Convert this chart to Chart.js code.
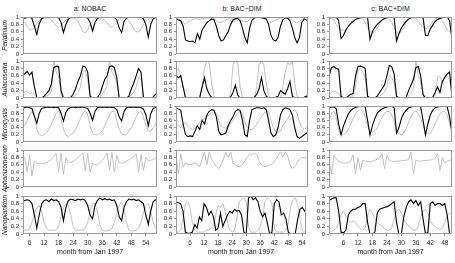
<!DOCTYPE html>
<html><head><meta charset="utf-8">
<script src="https://cdn.jsdelivr.net/npm/chart.js@4.4.1/dist/chart.umd.min.js"></script>
<style>
html,body{margin:0;padding:0;background:#fff;}
body{width:455px;height:263px;overflow:hidden;position:relative;font-family:"Liberation Sans",Arial,sans-serif;}
canvas{position:absolute;}
.ct{position:absolute;top:4px;font-size:7px;color:#222;text-align:center;width:140px;line-height:9px;}
</style></head><body>
<script>
// ---------- categories / axes ----------
const columnTitles = ["a: NOBAC", "b: BAC\u2212DIM", "c: BAC+DIM"];
const species = ["Peridinium", "Aulacoseira", "Microcystis", "Aphanizomenon", "Nanoplankton"];
const xAxisTitle = "month from Jan 1997";
const yTicks = [0, 0.2, 0.4, 0.6, 0.8, 1];
const yTickLabels = ["0", "0.2", "0.4", "0.6", "0.8", "1"];
const xTicksA = [6, 12, 18, 24, 30, 36, 42, 48, 54];
const xTicksB = [6, 12, 18, 24, 30, 36, 42, 48, 54];
const xTicksC = [6, 12, 18, 24, 30, 36, 42, 48];
const monthsA = [3,4,5,6,7,8,9,10,11,12,13,14,15,16,17,18,19,20,21,22,23,24,25,26,27,28,29,30,31,32,33,34,35,36,37,38,39,40,41,42,43,44,45,46,47,48,49,50,51,52,53,54,55,56,57,58,59];
const monthsB = [0,1,2,3,4,5,6,7,8,9,10,11,12,13,14,15,16,17,18,19,20,21,22,23,24,25,26,27,28,29,30,31,32,33,34,35,36,37,38,39,40,41,42,43,44,45,46,47,48,49,50,51,52,53,54,55,56];
const monthsC = [0,1,2,3,4,5,6,7,8,9,10,11,12,13,14,15,16,17,18,19,20,21,22,23,24,25,26,27,28,29,30,31,32,33,34,35,36,37,38,39,40,41,42,43,44,45,46,47,48,49,50,51,52];

// ---------- a: NOBAC ----------
const perA_blk = [0.96,0.97,0.99,1,0.96,0.75,0.53,0.82,0.95,0.99, 1,1,1,1,1,0.98,0.85,0.58,0.8,0.94, 0.99,1,1,1,1,1,1,0.97,0.85,0.62, 0.85,0.96,1,1,1,1,1,1,1,0.92, 0.7,0.58,0.88,0.97,1,1,1,1,1,1, 0.95,0.8,0.46,0.8,0.95,0.99,1];
const perA_gry = [0.9,0.85,0.75,0.66,0.65,0.7,0.82,0.9,0.95,0.97, 0.97,0.96,0.92,0.85,0.76,0.72,0.76,0.85,0.92,0.95, 0.97,0.97,0.95,0.88,0.75,0.6,0.57,0.65,0.8,0.9, 0.95,0.97,0.97,0.96,0.92,0.84,0.75,0.72,0.78,0.88, 0.94,0.97,0.97,0.96,0.9,0.8,0.68,0.6,0.6,0.68, 0.8,0.9,0.94,0.96,0.97,0.97,0.97];
const aulA_blk = [0.6,0.65,0.72,0.62,0.7,0.3,0.02,0,0,0.05, 0.12,0.2,0.38,0.82,0.86,0.85,0.2,0,0,0, 0.02,0.1,0.25,0.45,0.6,0.86,0.84,0.7,0.05,0, 0,0.02,0.1,0.3,0.5,0.6,0.85,0.87,0.82,0.55, 0,0,0,0,0.05,0.25,0.4,0.6,0.8,0.7, 0.02,0,0,0,0.03,0.1,0.12];
const aulA_gry = [0.12,0.15,0.2,0.12,0.15,0.08,0.02,0,0,0.02, 0.05,0.08,0.15,1,0.7,0.6,0.1,0,0,0, 0,0.03,0.08,0.15,0.3,0.7,0.75,0.5,0.03,0, 0,0,0.03,0.1,0.2,0.35,1,0.7,0.6,0.4, 0,0,0,0,0.02,0.08,0.15,0.3,0.55,0.5, 0.02,0,0,0,0.02,0.05,0.05];
const micA_blk = [0.95,0.95,0.97,0.95,0.93,0.72,0.52,0.8,0.93,0.95, 0.97,0.96,0.97,0.95,0.97,0.95,0.8,0.58,0.82,0.93, 0.96,0.97,0.95,0.97,0.96,0.97,0.95,0.93,0.8,0.6, 0.85,0.95,0.97,0.96,0.97,0.96,0.97,0.96,0.95,0.9, 0.7,0.58,0.85,0.95,0.97,0.96,0.97,0.96,0.97,0.95, 0.92,0.75,0.45,0.78,0.93,0.96,0.97];
const micA_gry = [0.4,0.45,0.6,0.75,0.85,0.7,0.35,0.2,0.18,0.2, 0.25,0.35,0.5,0.65,0.8,0.85,0.65,0.35,0.2,0.15, 0.2,0.25,0.35,0.5,0.65,0.8,0.88,0.75,0.45,0.25, 0.2,0.2,0.25,0.3,0.45,0.6,0.75,0.85,0.85,0.6, 0.35,0.22,0.2,0.2,0.3,0.4,0.55,0.7,0.82,0.85, 0.7,0.45,0.3,0.3,0.4,0.5,0.55];
const aphA_gry = [0.78,0.8,0.4,0.85,0.3,0.7,0.65,0.63,0.62,0.64, 0.66,0.7,0.75,0.82,0.9,0.4,0.92,0.35,0.8,0.68, 0.66,0.7,0.74,0.8,0.86,0.92,0.45,0.9,0.4,0.65, 0.6,0.6,0.65,0.72,0.8,0.92,0.45,0.95,0.4,0.85, 0.65,0.64,0.66,0.7,0.74,0.78,0.84,0.9,0.4,0.88, 0.45,0.8,0.7,0.72,0.74,0.78,0.78];
const nanA_blk = [0.85,0.88,0.9,0.88,0.8,0.5,0.15,0.5,0.8,0.88, 0.9,0.85,0.92,0.88,0.9,0.85,0.7,0.35,0.7,0.88, 0.92,0.9,0.88,0.92,0.9,0.92,0.88,0.75,0.5,0.4, 0.75,0.88,0.95,0.9,0.93,0.9,0.92,0.88,0.9,0.75, 0.45,0.35,0.7,0.85,0.92,0.9,0.92,0.88,0.9,0.85, 0.8,0.5,0.25,0.6,0.85,0.9,0.9];
const nanA_gry = [0.1,0.1,0.1,0.15,0.3,0.55,0.7,0.75,0.6,0.3, 0.15,0.1,0.1,0.1,0.1,0.2,0.45,0.7,0.8,0.75, 0.5,0.2,0.1,0.1,0.1,0.1,0.15,0.3,0.6,0.8, 0.8,0.6,0.25,0.1,0.08,0.08,0.1,0.15,0.3,0.55, 0.75,0.85,0.7,0.3,0.1,0.08,0.08,0.1,0.15,0.3, 0.55,0.75,0.8,0.6,0.3,0.15,0.12];

// ---------- b: BAC-DIM ----------
const perB_blk = [0.95,0.92,0.9,0.75,0.38,0.35,0.33,0.35,0.3,0.55, 0.4,0.65,0.75,0.85,0.9,0.95,0.93,0.75,0.5,0.35, 0.38,0.5,0.6,0.8,0.92,0.95,0.96,0.9,0.7,0.45, 0.3,0.7,0.92,0.97,1,1,0.98,0.97,0.95,0.8, 0.5,0.38,0.35,0.45,0.75,0.92,0.98,0.97,0.9,0.7, 0.45,0.3,0.45,0.85,0.95,0.92,0.9];
const perB_gry = [0.97,0.95,0.9,0.85,0.8,0.85,0.9,0.93,0.95,0.95, 0.93,0.95,0.97,0.97,0.98,0.98,0.95,0.9,0.85,0.85, 0.88,0.92,0.95,0.97,0.98,0.98,0.97,0.95,0.9,0.87, 0.88,0.93,0.97,0.98,0.98,0.98,0.97,0.95,0.92,0.88, 0.85,0.88,0.92,0.95,0.97,0.98,0.98,0.97,0.95,0.9, 0.87,0.85,0.88,0.93,0.96,0.97,0.97];
const aulB_blk = [0.62,0.55,0.6,0.3,0,0,0,0,0,0, 0.02,0.3,0.55,0.25,0.1,0.02,0,0,0,0, 0,0,0,0.03,0.15,0.35,0.08,0,0,0, 0,0,0,0.02,0.1,0.25,0.55,0.2,0.05,0, 0,0,0.02,0.05,0.2,0.15,0.1,0.25,0.45,0.05, 0,0,0,0,0.02,0.05,0.05];
const aulB_gry = [0.7,0.8,0.6,0.3,0.05,0,0,0,0,0, 0,0.3,0.8,1,0.95,0.4,0.05,0,0,0, 0,0,0,0.1,0.9,1,0.95,0.3,0.02,0, 0,0,0,0,0.3,0.9,1,0.9,0.4,0.05, 0,0,0,0,0,0.3,0.7,0.95,0.9,1, 0.4,0.05,0,0,0,0,0];
const micB_blk = [0.95,0.92,0.88,0.5,0.2,0.15,0.17,0.15,0.3,0.45, 0.35,0.6,0.5,0.75,0.85,0.9,0.88,0.7,0.3,0.2, 0.22,0.25,0.45,0.6,0.7,0.85,0.9,0.88,0.6,0.2, 0.15,0.6,0.9,0.93,0.95,0.95,0.93,0.95,0.9,0.6, 0.25,0.15,0.2,0.4,0.75,0.9,0.95,0.93,0.9,0.75, 0.4,0.15,0.1,0.15,0.2,0.25,0.25];
const micB_gry = [0.5,0.45,0.4,0.5,0.55,0.45,0.4,0.35,0.38,0.45, 0.55,0.6,0.65,0.7,0.75,0.82,0.85,0.8,0.6,0.45, 0.4,0.38,0.42,0.5,0.6,0.7,0.8,0.85,0.8,0.55, 0.4,0.35,0.35,0.4,0.5,0.6,0.7,0.8,0.85,0.85, 0.6,0.4,0.3,0.25,0.3,0.45,0.55,0.65,0.75,0.85, 0.9,0.8,0.55,0.4,0.35,0.4,0.42];
const aphB_gry = [0.8,0.35,0.9,0.55,0.65,0.62,0.6,0.62,0.65,0.6, 0.55,0.75,0.95,0.6,0.95,0.75,0.65,0.55,0.5,0.6, 0.75,0.95,0.8,0.95,0.65,0.6,0.55,0.55,0.6,0.7, 0.8,0.9,0.85,0.92,0.88,0.7,0.6,0.55,0.55,0.58, 0.6,0.65,0.75,0.85,0.95,0.8,0.95,0.85,0.6,0.5, 0.55,0.65,0.75,0.8,0.78,0.8,0.8];
const nanB_blk = [0.85,0.82,0.8,0.6,0.05,0.02,0.02,0.05,0.25,0.15, 0.45,0.35,0.8,0.7,0.5,0.6,0.45,0.1,0.15,0.55, 0.2,0.35,0.5,0.6,0.55,0.65,0.6,0.62,0.5,0.05, 0,0.95,1,0.9,0.95,0.85,0.6,0.45,0.55,0.3, 0,0.05,0.8,0.9,0.85,0.5,0.55,0.4,0.05,0, 0,0.02,0.4,0.65,0.7,0.6,0.6];
const nanB_gry = [0.05,0.05,0.1,0.4,0.8,0.85,0.7,0.3,0.1,0.05, 0.05,0.05,0.05,0.1,0.1,0.15,0.2,0.5,0.75,0.7, 0.8,0.6,0.3,0.1,0.05,0.1,0.4,0.85,0.9,0.95, 0.85,0.2,0.05,0.05,0.05,0.1,0.2,0.4,0.85,0.95, 0.9,0.8,0.15,0.05,0.05,0.05,0.05,0.1,0.3,0.7, 0.9,0.95,0.8,0.4,0.1,0.05,0.05];

// ---------- c: BAC+DIM ----------
const perC_blk = [0.97,0.99,1,1,0.9,0.42,0.5,0.65,0.75,0.82, 0.88,0.93,0.96,0.98,1,1,0.98,0.4,0.6,0.72, 0.8,0.86,0.92,0.96,0.98,1,1,0.98,0.35,0.55, 0.7,0.8,0.88,0.95,0.98,1,1,1,1,0.98, 0.5,0.5,0.68,0.78,0.88,0.93,0.96,0.98,1,1, 0.9,0.4,0.45];
const perC_gry = [0.98,0.97,0.92,0.8,0.7,0.65,0.63,0.66,0.75,0.85, 0.92,0.96,0.97,0.97,0.95,0.85,0.72,0.62,0.58,0.6, 0.7,0.82,0.9,0.95,0.97,0.95,0.85,0.72,0.6,0.55, 0.6,0.72,0.85,0.92,0.96,0.97,0.96,0.9,0.8,0.72, 0.68,0.7,0.78,0.88,0.94,0.97,0.96,0.9,0.78,0.65, 0.6,0.62,0.65];
const aulC_blk = [0.6,0.82,0.85,0.8,0.78,0.05,0,0,0.05,0.1, 0.12,0.6,0.85,0.86,0.84,0.8,0.05,0,0,0, 0.05,0.15,0.25,0.35,0.6,0.88,0.85,0.65,0.05,0, 0,0,0.02,0.2,0.35,0.5,0.82,0.85,0.6,0.1, 0,0,0,0.02,0.15,0.3,0.15,0.45,0.55,0.65, 0.7,0.05,0];
const aulC_gry = [0.1,0.15,0.2,0.15,0.12,0.02,0,0,0.02,0.05, 0.05,0.3,0.75,0.8,0.7,0.55,0.03,0,0,0, 0.02,0.05,0.1,0.15,0.3,0.6,0.55,0.4,0.02,0, 0,0,0,0.05,0.15,0.25,1,0.6,0.45,0.05, 0,0,0,0,0.1,0.55,0.6,0.4,0.6,0.55, 0.5,0.02,0];
const micC_blk = [0.95,0.97,0.98,0.92,0.5,0.2,0.45,0.62,0.78,0.87, 0.93,0.96,0.98,0.99,1,0.98,0.6,0.2,0.45,0.65, 0.8,0.87,0.92,0.95,0.97,0.99,1,0.95,0.25,0.4, 0.65,0.8,0.88,0.95,0.97,0.99,1,1,0.98,0.6, 0.2,0.5,0.75,0.88,0.95,0.97,0.99,1,1,0.98, 0.7,0.25,0.2];
const micC_gry = [0.6,0.8,0.85,0.7,0.35,0.2,0.2,0.25,0.35,0.5, 0.65,0.78,0.87,0.9,0.85,0.7,0.45,0.3,0.28,0.3, 0.4,0.55,0.68,0.8,0.85,0.85,0.75,0.55,0.3,0.22, 0.2,0.25,0.38,0.55,0.7,0.82,0.86,0.8,0.65,0.45, 0.28,0.22,0.25,0.35,0.5,0.65,0.78,0.85,0.86,0.75, 0.5,0.3,0.25];
const aphC_gry = [0.75,0.35,0.85,0.75,0.7,0.66,0.65,0.64,0.66,0.7, 0.88,0.35,0.8,0.45,0.72,0.7,0.68,0.68,0.7,0.72, 0.75,0.8,0.9,0.5,0.85,0.72,0.7,0.69,0.7,0.7, 0.71,0.72,0.72,0.74,0.95,0.35,0.72,0.7,0.7,0.71, 0.72,0.72,0.73,0.74,0.78,0.9,0.45,0.8,0.65,0.7, 0.72,0.75,0.75];
const nanC_blk = [0.88,0.92,0.95,0.95,0.6,0.05,0.03,0.1,0.5,0.6, 0.65,0.65,0.7,0.72,0.8,0.8,0.3,0,0,0.05, 0.55,0.65,0.68,0.7,0.72,0.75,0.8,0.85,0.3,0, 0,0.45,0.7,0.85,0.9,0.8,0.88,0.75,0.85,0.4, 0,0.05,0.8,0.85,0.75,0.8,0.8,0.75,0.8,0.5, 0,0.02,0.02];
const nanC_gry = [0.05,0.05,0.1,0.15,0.3,0.5,0.6,0.5,0.35,0.3, 0.35,0.3,0.2,0.15,0.1,0.15,0.5,0.65,0.55,0.4, 0.3,0.25,0.2,0.15,0.1,0.1,0.15,0.4,0.6,0.65, 0.55,0.4,0.3,0.2,0.15,0.1,0.1,0.2,0.45,0.6, 0.65,0.55,0.35,0.25,0.2,0.15,0.12,0.15,0.3,0.5, 0.55,0.5,0.45];

// ---------- assembly ----------
const columns = [
  {months: monthsA, xTicks: xTicksA, xMin: 3.3, xMax: 58.6,
   rows: [[perA_blk, perA_gry], [aulA_blk, aulA_gry], [micA_blk, micA_gry], [null, aphA_gry], [nanA_blk, nanA_gry]]},
  {months: monthsB, xTicks: xTicksB, xMin: 0, xMax: 55.6,
   rows: [[perB_blk, perB_gry], [aulB_blk, aulB_gry], [micB_blk, micB_gry], [null, aphB_gry], [nanB_blk, nanB_gry]]},
  {months: monthsC, xTicks: xTicksC, xMin: 0, xMax: 51,
   rows: [[perC_blk, perC_gry], [aulC_blk, aulC_gry], [micC_blk, micC_gry], [null, aphC_gry], [nanC_blk, nanC_gry]]}
];

// layout geometry (pixels)
const colL = [23, 176, 329], colR = [157, 308, 452];
const rowT = [17, 61, 106, 150, 196], rowH = [37, 37, 36, 37, 38];
const TOP_PAD = 8, BOT_PAD = 8, XAXIS_H = 22, Y_W_OTHER = 20;

const boxPlugin = {
  id: 'box',
  afterDatasetsDraw(chart) {
    const a = chart.chartArea, ctx = chart.ctx;
    ctx.save();
    ctx.strokeStyle = '#9a9a9a';
    ctx.lineWidth = 1;
    ctx.strokeRect(Math.round(a.left) + 0.5, Math.round(a.top) + 0.5, Math.round(a.right - a.left) - 1, Math.round(a.bottom - a.top) - 1);
    ctx.restore();
  }
};

function pts(months, vals) { return months.map((m, i) => ({x: m, y: vals[i]})); }

columnTitles.forEach((t, c) => {
  const d = document.createElement('div');
  d.className = 'ct';
  d.textContent = t;
  d.style.left = ((colL[c] + colR[c]) / 2 - 70) + 'px';
  document.body.appendChild(d);
});

columns.forEach((col, c) => {
  col.rows.forEach((pair, r) => {
    const bottom = r === 4;
    const yw = c === 0 ? colL[0] : Y_W_OTHER;
    const left = colL[c] - yw;
    const width = colR[c] - left + 1;
    const height = TOP_PAD + rowH[r] + (bottom ? XAXIS_H : BOT_PAD);
    const cv = document.createElement('canvas');
    cv.width = width; cv.height = height;
    cv.style.left = left + 'px';
    cv.style.top = (rowT[r] - TOP_PAD) + 'px';
    cv.style.width = width + 'px'; cv.style.height = height + 'px';
    document.body.appendChild(cv);

    const datasets = [];
    if (pair[0]) datasets.push({data: pts(col.months, pair[0]), borderColor: '#000', borderWidth: 1.1});
    datasets.push({data: pts(col.months, pair[1]), borderColor: '#c2c2c2', borderWidth: 1});

    new Chart(cv, {
      type: 'line',
      data: {datasets: datasets},
      options: {
        responsive: false, animation: false, devicePixelRatio: 1,
        elements: {point: {radius: 0}, line: {tension: 0}},
        layout: {padding: {top: TOP_PAD, right: 1, left: 0, bottom: bottom ? 0 : BOT_PAD}},
        plugins: {legend: {display: false}, tooltip: {enabled: false}, title: {display: false}},
        scales: {
          x: {
            type: 'linear', min: col.xMin, max: col.xMax, display: bottom,
            afterBuildTicks: s => { s.ticks = col.xTicks.map(v => ({value: v})); },
            afterFit: s => { if (bottom) s.height = XAXIS_H; },
            ticks: {font: {size: 6.5, family: 'Liberation Sans'}, color: '#333', padding: 3, maxRotation: 0, autoSkip: false},
            grid: {drawOnChartArea: false, tickLength: 2, color: '#999'},
            border: {display: false},
            title: {display: true, text: xAxisTitle, font: {size: 7, family: 'Liberation Sans'}, color: '#222', padding: {top: 0, bottom: 0}}
          },
          y: {
            type: 'linear', min: 0, max: 1,
            afterBuildTicks: s => { s.ticks = yTicks.map(v => ({value: v})); },
            afterFit: s => { s.width = yw; },
            ticks: {font: {size: 6, family: 'Liberation Sans'}, color: '#333', padding: 2, autoSkip: false,
                    callback: (v, i) => yTickLabels[i]},
            grid: {drawOnChartArea: false, tickLength: 2, color: '#999'},
            border: {display: false},
            title: {display: c === 0, text: species[r], font: {size: 6.5, style: 'italic', family: 'Liberation Sans'}, color: '#222', padding: {top: 1, bottom: 0}}
          }
        }
      },
      plugins: [boxPlugin]
    });
  });
});
</script>
</body></html>
